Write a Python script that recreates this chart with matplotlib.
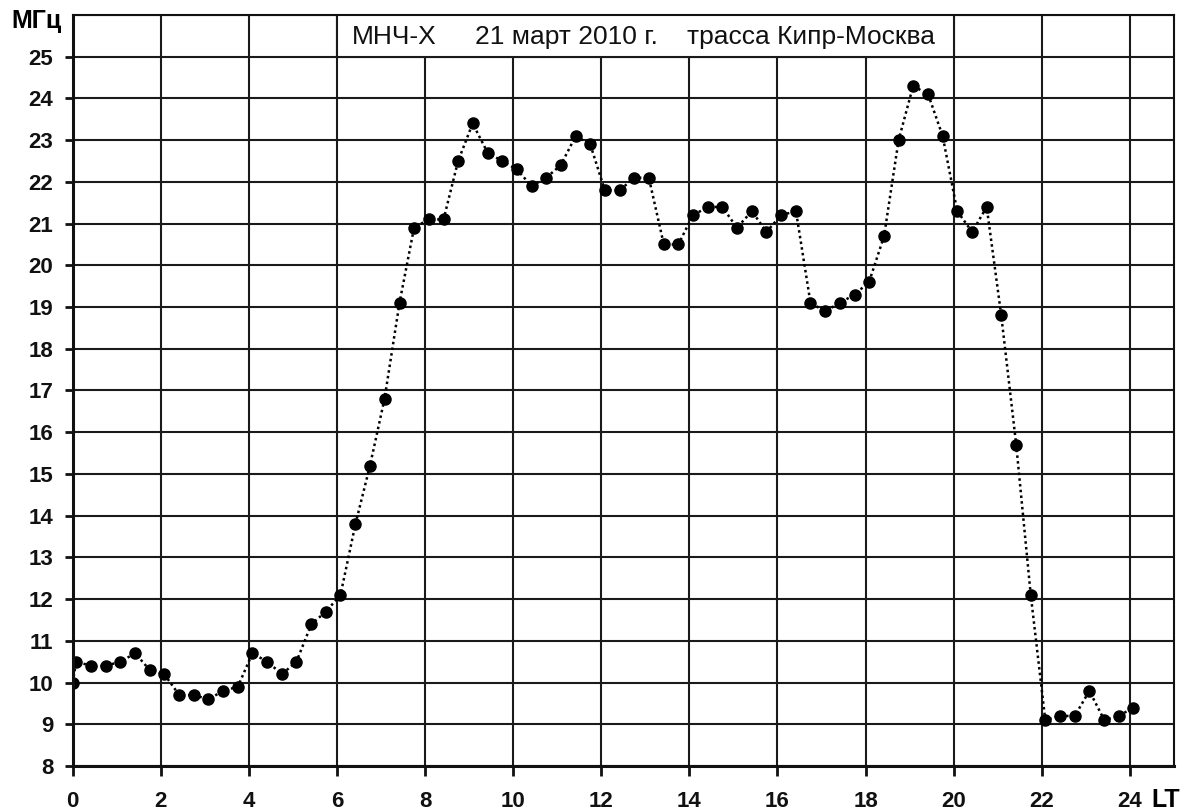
import matplotlib
matplotlib.use("Agg")
import matplotlib.pyplot as plt
from matplotlib.patches import Rectangle

# Local time, hours
hours = [0, 0.08, 0.42, 0.75, 1.08, 1.42, 1.75, 2.08, 2.42, 2.75, 3.08, 3.42, 3.75,
         4.08, 4.42, 4.75, 5.08, 5.42, 5.75, 6.08, 6.42, 6.75, 7.08, 7.42, 7.75,
         8.08, 8.42, 8.75, 9.08, 9.42, 9.75, 10.08, 10.42, 10.75, 11.08, 11.42, 11.75,
         12.08, 12.42, 12.75, 13.08, 13.42, 13.75, 14.08, 14.42, 14.75, 15.08, 15.42, 15.75,
         16.08, 16.42, 16.75, 17.08, 17.42, 17.75, 18.08, 18.42, 18.75, 19.08, 19.42, 19.75,
         20.08, 20.42, 20.75, 21.08, 21.42, 21.75, 22.08, 22.42, 22.75, 23.08, 23.42, 23.75,
         24.08]
# MUF, MHz
muf = [10.0,
       10.5, 10.4, 10.4, 10.5, 10.7, 10.3, 10.2, 9.7, 9.7, 9.6, 9.8, 9.9,
       10.7, 10.5, 10.2, 10.5, 11.4, 11.7, 12.1, 13.8, 15.2, 16.8, 19.1, 20.9,
       21.1, 21.1, 22.5, 23.4, 22.7, 22.5, 22.3, 21.9, 22.1, 22.4, 23.1, 22.9,
       21.8, 21.8, 22.1, 22.1, 20.5, 20.5, 21.2, 21.4, 21.4, 20.9, 21.3, 20.8,
       21.2, 21.3, 19.1, 18.9, 19.1, 19.3, 19.6, 20.7, 23.0, 24.3, 24.1, 23.1,
       21.3, 20.8, 21.4, 18.8, 15.7, 12.1, 9.1, 9.2, 9.2, 9.8, 9.1, 9.2,
       9.4]

x_ticks = list(range(0, 25, 2))
y_ticks = list(range(8, 26))
title_parts = ["МНЧ-Х", "21 март 2010 г.", "трасса Кипр-Москва"]
y_unit = "МГц"
x_unit = "LT"

plt.rcParams['font.family'] = ['Liberation Sans', 'DejaVu Sans']

fig = plt.figure(figsize=(11.93, 8.11), dpi=100)
ax = fig.add_axes([0.0609, 0.0555, 0.9231, 0.926])
ax.set_xlim(0, 25)
ax.set_ylim(8, 26)

gc = '#1a1a1a'
for xv in x_ticks:
    ax.axvline(xv, color=gc, lw=1.5, zorder=1)
for yv in y_ticks + [26]:
    ax.axhline(yv, color=gc, lw=1.5, zorder=1)

# title box
ax.add_patch(Rectangle((6, 25), 14, 1, facecolor='white', edgecolor='none', zorder=1.5))
ax.plot([6, 6], [25, 26], color=gc, lw=1.5, zorder=1.6)
ax.plot([20, 20], [25, 26], color=gc, lw=1.5, zorder=1.6)
ax.plot([6, 20], [25, 25], color=gc, lw=1.5, zorder=1.6)

ax.plot(hours, muf, color='black', lw=1.8, linestyle=(0, (1, 1.3)), zorder=3)
ax.plot(hours, muf, linestyle='none', marker='o', markersize=8,
        markerfacecolor='black', markeredgecolor='black', zorder=4)

ty = 25.47
ax.text(6.33, ty, title_parts[0], fontsize=19, ha='left', va='center', zorder=5, color='#111111')
ax.text(9.13, ty, title_parts[1], fontsize=19, ha='left', va='center', zorder=5, color='#111111')
ax.text(13.95, ty, title_parts[2], fontsize=19, ha='left', va='center', zorder=5, color='#111111')

ax.set_xticks(x_ticks)
ax.set_yticks(y_ticks)
ax.set_xticklabels([str(v) for v in x_ticks], fontsize=16, fontweight='bold')
ax.set_yticklabels([str(v) for v in y_ticks], fontsize=16, fontweight='bold')
ax.tick_params(axis='x', direction='out', length=7, width=2, pad=11, colors='#111111')
ax.tick_params(axis='y', direction='out', length=6, width=2, pad=8, colors='#111111')

for s in ['left', 'bottom']:
    ax.spines[s].set_linewidth(2.2)
for s in ['top', 'right']:
    ax.spines[s].set_linewidth(1.5)
for s in ax.spines.values():
    s.set_color('#111111')
    s.set_zorder(6)

fig.text(62 / 1193, 1 - 21 / 811, y_unit, fontsize=18, fontweight='bold', ha='right', va='center')
fig.text(1151 / 1193, 1 - 800 / 811, x_unit, fontsize=18, fontweight='bold', ha='left', va='center')

fig.savefig('out.png', dpi=100, facecolor='white')
